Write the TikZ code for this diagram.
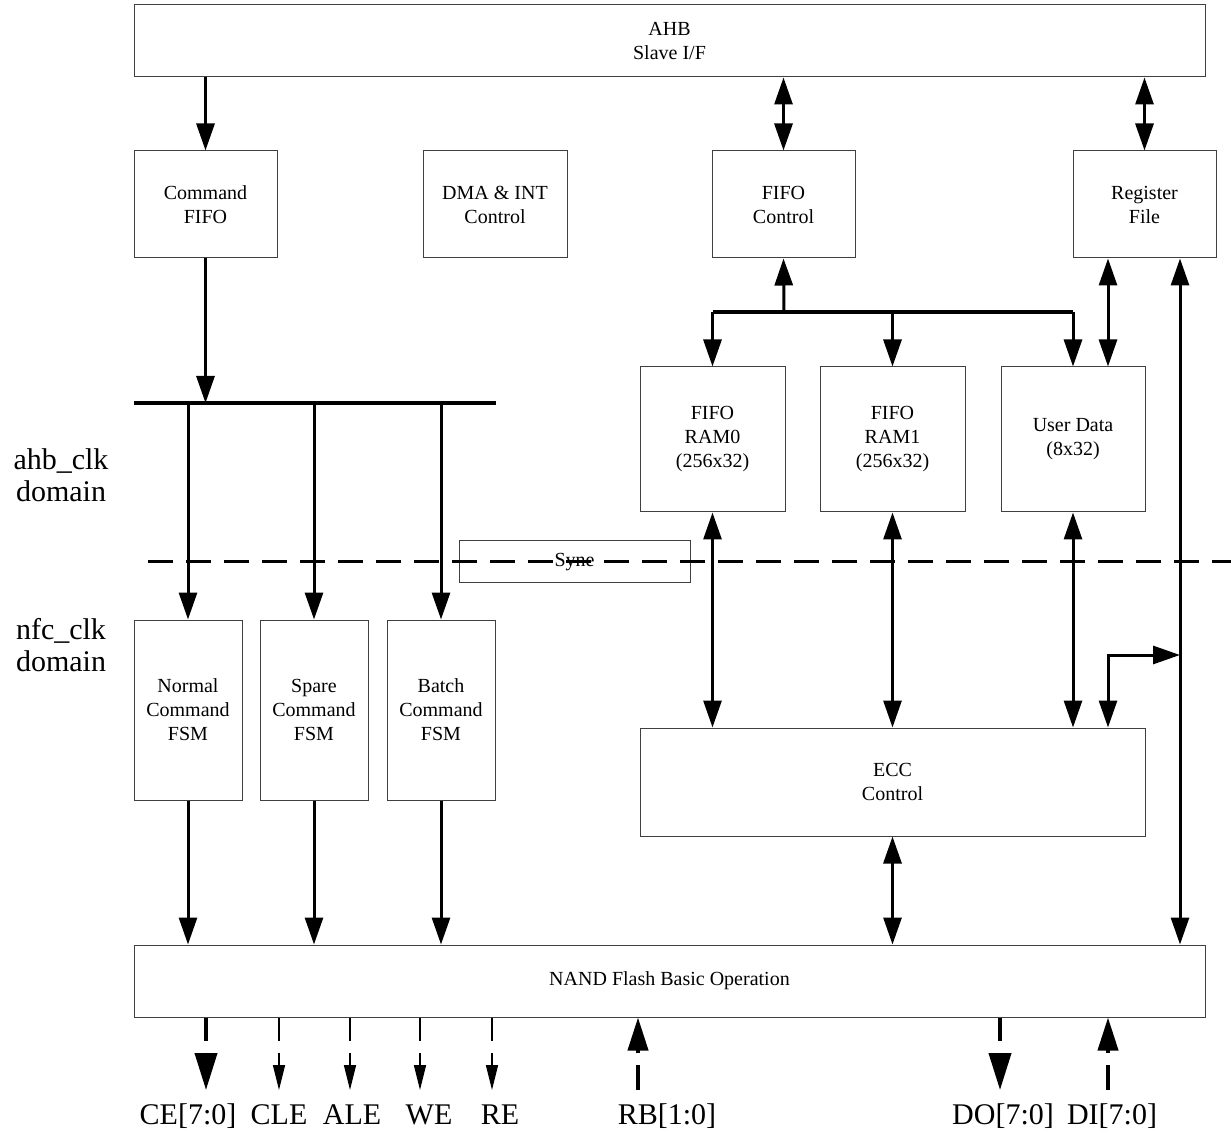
\documentclass[tikz,border=0pt]{standalone}
\usepackage{fontspec}
\setmainfont{Liberation Serif}
\usetikzlibrary{arrows.meta}

\begin{document}
\begin{tikzpicture}[x=0.5pt, y=-0.5pt,
    blk/.style={draw=black!75, line width=0.5pt, align=center, inner sep=0pt, font=\fontsize{10}{12}\selectfont},
    sz/.style 2 args={minimum width=#1*0.5pt, minimum height=#2*0.5pt},
    arr/.style={line width=1.5pt, -{Triangle[length=13.5pt, width=9pt]}},
    dbl/.style={line width=1.5pt, {Triangle[length=13.5pt, width=9pt]}-{Triangle[length=13.5pt, width=9pt]}},
    bus/.style={line width=1.6pt},
    sigbig/.style={line width=2pt, dash pattern=on 11.5pt off 6pt, -{Triangle[length=18.5pt, width=11pt]}},
    sigin/.style={line width=2pt, dash pattern=on 12.5pt off 6pt, -{Triangle[length=16.5pt, width=10pt]}},
    sigthin/.style={line width=0.7pt, dash pattern=on 11.5pt off 6pt, -{Triangle[length=12.5pt, width=6pt]}},
    pin/.style={anchor=base, font=\fontsize{15}{17}\selectfont},
    dom/.style={align=center, font=\fontsize{15}{16}\selectfont}]
    \useasboundingbox (0,0) rectangle (1231,1133);

    % upper blocks
    \node[blk, sz={1071}{72}] (ahb) at (669.5, 41) {AHB\\Slave I/F};
    \node[blk, sz={143}{107}] (cmdfifo) at (205.5, 204.5) {Command\\FIFO};
    \node[blk, sz={144}{107}] (dma) at (495, 204.5) {DMA \& INT\\Control};
    \node[blk, sz={143}{107}] (fifoctl) at (783.5, 204.5) {FIFO\\Control};
    \node[blk, sz={143}{107}] (regfile) at (1144.5, 204.5) {Register\\File};
    \node[blk, sz={145}{145}] (ram0) at (712.5, 439.5) {FIFO\\RAM0\\(256x32)};
    \node[blk, sz={145}{145}] (ram1) at (892.5, 439.5) {FIFO\\RAM1\\(256x32)};
    \node[blk, sz={144}{145}] (udata) at (1073, 439.5) {User Data\\(8x32)};
    \node[blk, sz={231}{42}] (sync) at (574.5, 562) {Syne};

    % lower blocks
    \node[blk, sz={108}{180}] (normal) at (188, 710) {Normal\\Command\\FSM};
    \node[blk, sz={108}{180}] (spare) at (314, 710) {Spare\\Command\\FSM};
    \node[blk, sz={108}{180}] (batch) at (441, 710) {Batch\\Command\\FSM};
    \node[blk, sz={505}{108}] (ecc) at (892.5, 782) {ECC\\Control};
    \node[blk, sz={1071}{72}] (nand) at (669.5, 981) {NAND Flash Basic Operation};

    % clock domains
    \node[dom] (ahbclk) at (61, 475) {ahb\_clk\\domain};
    \node[dom] (nfcclk) at (61, 645) {nfc\_clk\\domain};
    \coordinate (dl) at (148, 562);
    \coordinate (dr) at (1231, 562);
    \draw[line width=1.5pt, dash pattern=on 12.5pt off 6.5pt] (dl) -- (dr);

    % command path
    \draw[arr] (ahb.south -| cmdfifo) -- (cmdfifo.north);
    \coordinate (cbusl) at (134, 403);
    \coordinate (cbusr) at (496, 403);
    \draw[bus] (cbusl) -- (cbusr);
    \draw[arr] (cmdfifo.south) -- (cmdfifo.south |- cbusl);
    \draw[arr] (normal.north |- cbusl) -- (normal.north);
    \draw[arr] (spare.north |- cbusl) -- (spare.north);
    \draw[arr] (batch.north |- cbusl) -- (batch.north);
    \draw[arr] (normal.south) -- (normal.south |- nand.north);
    \draw[arr] (spare.south) -- (spare.south |- nand.north);
    \draw[arr] (batch.south) -- (batch.south |- nand.north);

    % data path
    \draw[dbl] (ahb.south -| fifoctl) -- (fifoctl.north);
    \draw[dbl] (ahb.south -| regfile) -- (regfile.north);
    \coordinate (fbus) at (784, 312);
    \draw[bus] (ram0.north |- fbus) -- (udata.north |- fbus);
    \draw[arr] (fbus) -- (fifoctl.south);
    \draw[arr] (ram0.north |- fbus) -- (ram0.north);
    \draw[arr] (ram1.north |- fbus) -- (ram1.north);
    \draw[arr] (udata.north |- fbus) -- (udata.north);
    \coordinate (ud1) at ([xshift=17.5pt]udata.north);
    \coordinate (rf1) at ([xshift=17.75pt]regfile.south);
    \draw[dbl] (ud1 |- regfile.south) -- (ud1);
    \draw[dbl] (rf1) -- (rf1 |- nand.north);
    \coordinate (tap) at (1108, 655);
    \draw[dbl] (tap -| rf1) -- (tap) -- (tap |- ecc.north);
    \draw[dbl] (ram0.south) -- (ram0.south |- ecc.north);
    \draw[dbl] (ram1.south) -- (ram1.south |- ecc.north);
    \draw[dbl] (udata.south) -- (udata.south |- ecc.north);
    \draw[dbl] (ecc.south) -- (ecc.south |- nand.north);

    % nand flash pins
    \node[pin] (ce) at (188, 1124) {CE[7:0]};
    \node[pin] (cle) at (279, 1124) {CLE};
    \node[pin] (ale) at (352, 1124) {ALE};
    \node[pin] (we) at (429, 1124) {WE};
    \node[pin] (re) at (500, 1124) {RE};
    \node[pin] (rb) at (667, 1124) {RB[1:0]};
    \node[pin] (do) at (1003, 1124) {DO[7:0]};
    \node[pin] (di) at (1112, 1124) {DI[7:0]};
    \coordinate (cep) at (206, 1090);
    \coordinate (clep) at (279, 1090);
    \coordinate (alep) at (350, 1090);
    \coordinate (wep) at (420, 1090);
    \coordinate (rep) at (492, 1090);
    \coordinate (rbp) at (638, 1090);
    \coordinate (dop) at (1000, 1090);
    \coordinate (dip) at (1108, 1090);
    \draw[sigbig] (nand.south -| cep) -- (cep);
    \draw[sigthin] (nand.south -| clep) -- (clep);
    \draw[sigthin] (nand.south -| alep) -- (alep);
    \draw[sigthin] (nand.south -| wep) -- (wep);
    \draw[sigthin] (nand.south -| rep) -- (rep);
    \draw[sigin] (rbp) -- (nand.south -| rbp);
    \draw[sigbig] (nand.south -| dop) -- (dop);
    \draw[sigin] (dip) -- (nand.south -| dip);
\end{tikzpicture}
\end{document}
